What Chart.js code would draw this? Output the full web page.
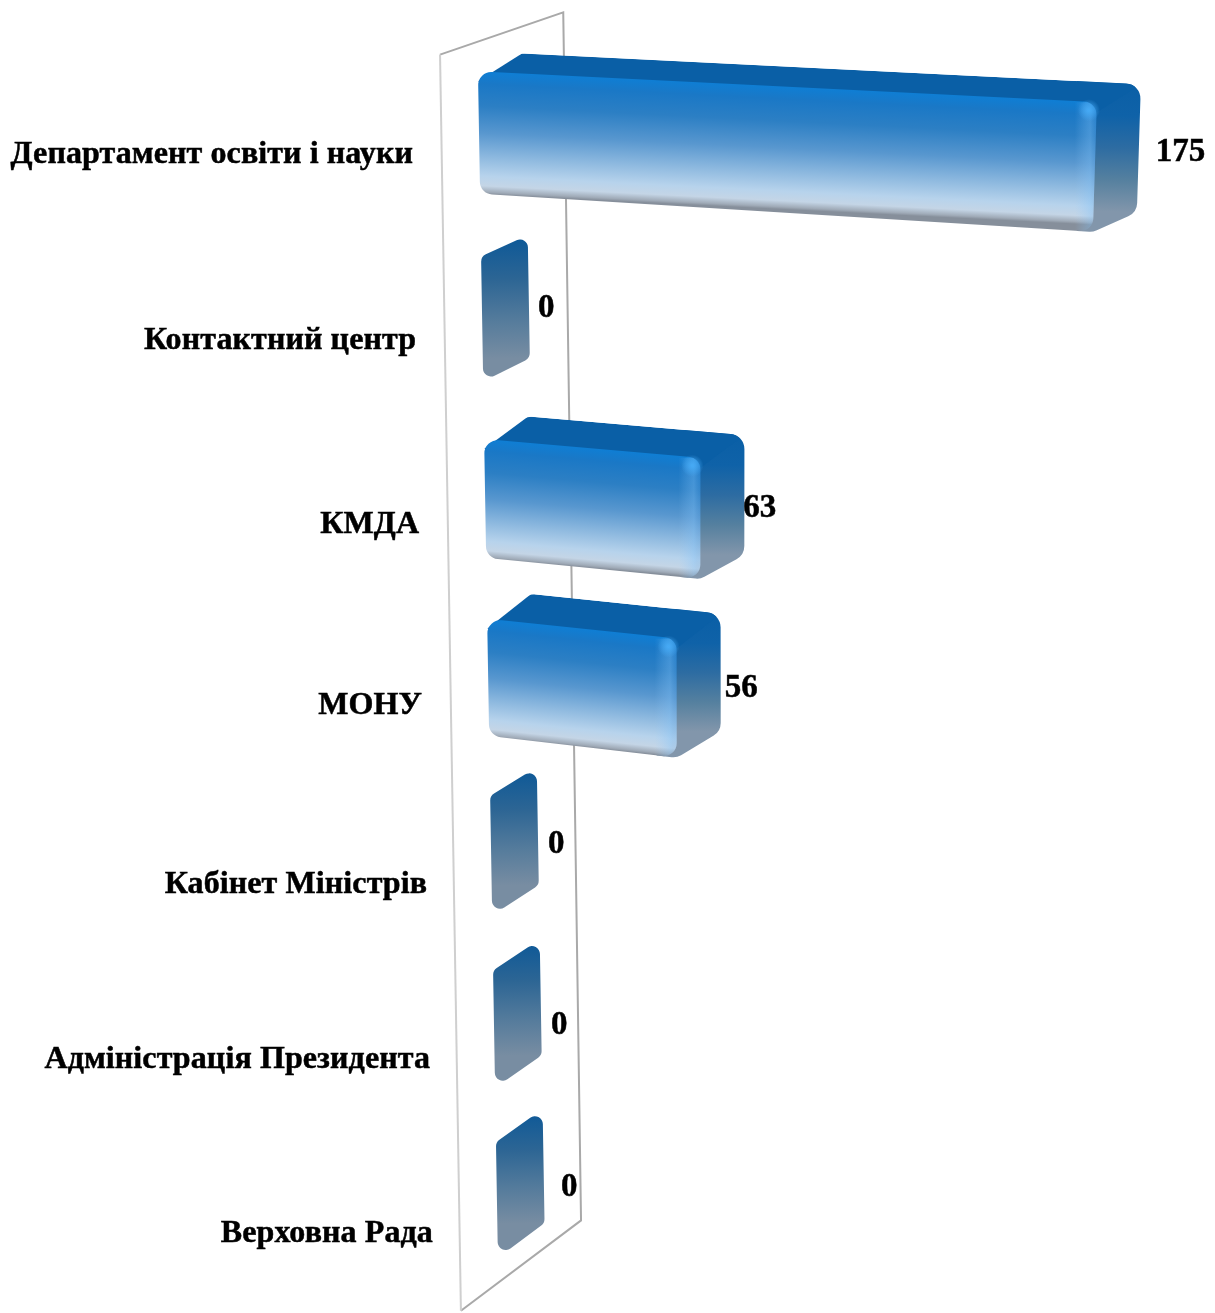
<!DOCTYPE html>
<html lang="uk">
<head>
  <meta charset="UTF-8">
  <title>Звернення</title>
  <script src="https://cdn.jsdelivr.net/npm/chart.js"></script>
  <style>
    html, body { margin: 0; padding: 0; background: #fff; }
    canvas { display: block; }
  </style>
</head>
<body>
  <canvas id="myChart" width="1215" height="1313"></canvas>

  <script>
    const categories = ["Департамент освіти і науки", "Контактний центр", "КМДА", "МОНУ", "Кабінет Міністрів", "Адміністрація Президента", "Верховна Рада"];
    const values = [175, 0, 63, 56, 0, 0, 0];

    // hand tuned nudges for the value labels, the original has them placed unevenly
    const labelNudgeX = [17, 12, -1, 4, 13, 13, 20];
    const labelNudgeY = [4, 12, 13, 16, 18, 28, 21];

    const FONT = '"Liberation Serif", serif';
    const AXIS_MAX = 200;

    // fake 3D: flat chart position + depth (0 = front of bar, 1 = back of bar) -> screen
    function project(area, px, py, d) {
      const t = (py - 133) / 1065;
      const y = py + 48 * t * (1 - t);
      const x0 = area.left + 0.0168 * (y - 73);
      const sx = 1 - 0.00008 * (y - 130);
      const run = (px - area.left) * sx;
      const slope = 0.05 + 0.0001 * (y - 73);
      return {
        x: x0 + run + d * 44,
        y: y + slope * run - d * (18 + 0.0125 * (y - 73))
      };
    }

    function roundPoly(ctx, pts, r) {
      const a = pts[pts.length - 1], b = pts[0];
      ctx.beginPath();
      ctx.moveTo((a.x + b.x) / 2, (a.y + b.y) / 2);
      pts.forEach((p, i) => {
        const n = pts[(i + 1) % pts.length];
        ctx.arcTo(p.x, p.y, n.x, n.y, r);
      });
      ctx.closePath();
    }

    function stops(grad, list) {
      list.forEach(s => grad.addColorStop(s[0], s[1]));
      return grad;
    }

    function drawZeroBar(ctx, area, bar) {
      const top = bar.y - bar.height / 2, bot = bar.y + bar.height / 2 + 4;
      const a = project(area, bar.x, top, 0), b = project(area, bar.x, top, 1.06);
      const c = project(area, bar.x, bot, 1.06), d = project(area, bar.x, bot, 0);
      roundPoly(ctx, [a, b, c, d], 8);
      ctx.fillStyle = stops(ctx.createLinearGradient(b.x, b.y, c.x, c.y), [
        [0, "#0b5898"], [0.35, "#2c6594"], [0.7, "#567c9c"], [1, "#788da2"]
      ]);
      ctx.fill();
    }

    function drawBar(ctx, area, bar) {
      const top = bar.y - bar.height / 2, bot = bar.y + bar.height / 2;
      const P = (px, py, d) => project(area, px, py, d);
      const ftl = P(bar.base, top, 0), ftr = P(bar.x, top, 0);
      const fbl = P(bar.base, bot, 0), fbr = P(bar.x, bot, 0);
      const btl = P(bar.base, top, 1), btr = P(bar.x, top, 1);
      const bbr = P(bar.x, bot, 1);

      ctx.save();
      // whole outline first so the top and side faces join without a notch
      roundPoly(ctx, [ftl, btl, btr, bbr, fbr, fbl], 15);
      ctx.clip();

      // side face
      ctx.fillStyle = stops(ctx.createLinearGradient(btr.x, btr.y, bbr.x, bbr.y), [
        [0, "#0a5fa6"], [0.25, "#0f62a8"], [0.5, "#2d6ca2"], [0.75, "#55809f"], [1, "#8296ab"]
      ]);
      ctx.fillRect(ftr.x - 20, btr.y - 5, btr.x - ftr.x + 30, fbr.y - btr.y + 10);

      // top face
      ctx.beginPath();
      ctx.moveTo(ftl.x, ftl.y + 10);
      ctx.lineTo(btl.x, btl.y);
      ctx.lineTo(btr.x, btr.y);
      ctx.lineTo(ftr.x, ftr.y + 10);
      ctx.closePath();
      ctx.fillStyle = "#0a5fa6";
      ctx.fill();
      ctx.restore();

      // front face, colour bands follow the slope of the bar
      const s = (ftr.y - ftl.y) / (ftr.x - ftl.x);
      const h = fbl.y - ftl.y;
      const mx = (ftl.x + ftr.x) / 2, my = (ftl.y + ftr.y) / 2;
      roundPoly(ctx, [ftl, ftr, fbr, fbl], 13);
      ctx.fillStyle = stops(ctx.createLinearGradient(mx, my, mx - s * h, my + h), [
        [0, "#0f7ed4"], [0.1, "#1a78c6"], [0.28, "#2c7fc4"], [0.5, "#5897cf"],
        [0.72, "#94bde1"], [0.85, "#b7d3ec"], [0.93, "#c4d5e6"], [0.98, "#a0abb8"], [1, "#868f9b"]
      ]);
      ctx.fill();

      // lighter rim along the right end of the front face
      ctx.save();
      roundPoly(ctx, [ftl, ftr, fbr, fbl], 13);
      ctx.clip();
      const rx = Math.max(ftr.x, fbr.x);
      ctx.fillStyle = stops(ctx.createLinearGradient(rx - 22, 0, rx, 0), [
        [0, "rgba(150,205,255,0)"], [0.7, "rgba(130,195,250,0.35)"], [1, "rgba(90,160,225,0.2)"]
      ]);
      ctx.fillRect(rx - 22, ftr.y, 24, fbr.y - ftr.y);
      ctx.restore();

      // small glint at the top corner
      const gx = ftr.x - 8, gy = ftr.y + 8;
      ctx.fillStyle = stops(ctx.createRadialGradient(gx, gy, 1, gx, gy, 11), [
        [0, "rgba(70,170,245,0.95)"], [1, "rgba(70,170,245,0)"]
      ]);
      ctx.fillRect(gx - 12, gy - 12, 24, 24);
    }

    const fake3d = {
      id: "fake3d",
      beforeDatasetsDraw(chart) {
        // back wall standing on the zero line
        const { ctx, chartArea: area } = chart;
        const tl = project(area, area.left, area.top, -0.85);
        const tr = project(area, area.left, area.top, 1.95);
        const br = project(area, area.left, area.bottom, 1.88);
        const bl = project(area, area.left, area.bottom, -0.85);
        tr.y += 7;
        ctx.save();
        ctx.lineWidth = 2;
        ctx.strokeStyle = "#a9a9a9";
        ctx.beginPath();
        ctx.moveTo(tl.x, tl.y);
        ctx.lineTo(tr.x, tr.y);
        ctx.lineTo(br.x, br.y);
        ctx.lineTo(bl.x, bl.y);
        ctx.stroke();
        ctx.strokeStyle = "#cfcfcf";
        ctx.beginPath();
        ctx.moveTo(bl.x, bl.y);
        ctx.lineTo(tl.x, tl.y);
        ctx.stroke();
        ctx.restore();
      },
      afterDatasetsDraw(chart) {
        const { ctx, chartArea: area, scales } = chart;
        const bars = chart.getDatasetMeta(0).data;
        ctx.save();
        bars.forEach((bar, i) => {
          if (values[i] > 0) drawBar(ctx, area, bar);
          else drawZeroBar(ctx, area, bar);
        });

        ctx.fillStyle = "#000";
        ctx.strokeStyle = "#000";
        ctx.lineWidth = 0.5;
        ctx.textBaseline = "middle";

        // category labels
        ctx.font = "bold 32px " + FONT;
        ctx.letterSpacing = "0.1px";
        ctx.textAlign = "right";
        categories.forEach((name, i) => {
          const p = project(area, area.left, scales.y.getPixelForTick(i), -1);
          const lx = p.x - 22 + (i > 3 ? 2 : 0), ly = p.y + 3;
          ctx.fillText(name, lx, ly);
          ctx.strokeText(name, lx, ly);
        });

        // value labels
        ctx.font = "bold 33px " + FONT;
        ctx.letterSpacing = "0px";
        ctx.textAlign = "left";
        bars.forEach((bar, i) => {
          const p = project(area, bar.x, bar.y, 1);
          const lx = p.x + labelNudgeX[i], ly = p.y + labelNudgeY[i];
          ctx.fillText(String(values[i]), lx, ly);
          ctx.strokeText(String(values[i]), lx, ly);
        });
        ctx.restore();
      }
    };

    new Chart(document.getElementById("myChart").getContext("2d"), {
      type: "bar",
      data: {
        labels: categories,
        datasets: [{
          data: values,
          backgroundColor: "rgba(0,0,0,0)",
          categoryPercentage: 1,
          barPercentage: 0.66
        }]
      },
      options: {
        indexAxis: "y",
        responsive: false,
        animation: false,
        layout: { padding: { left: 478, right: 33, top: 44, bottom: 26 } },
        plugins: { legend: { display: false }, tooltip: { enabled: false } },
        scales: {
          x: { display: false, min: 0, max: AXIS_MAX },
          y: { display: false }
        }
      },
      plugins: [fake3d]
    });
  </script>
</body>
</html>
